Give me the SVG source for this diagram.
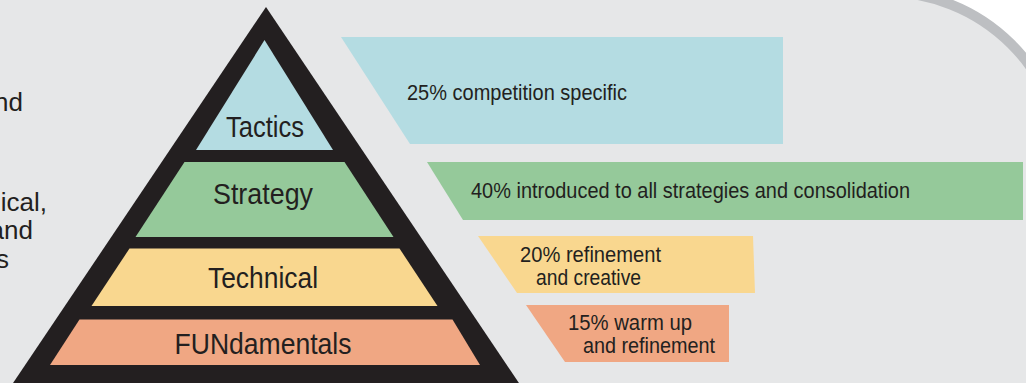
<svg xmlns="http://www.w3.org/2000/svg" width="1026" height="383" viewBox="0 0 1026 383">
<style>
.lbl{font-family:"Liberation Sans Narrow","Liberation Sans",Arial,sans-serif;font-size:30px;fill:#231f20;text-anchor:middle}
.pct{font-family:"Liberation Sans Narrow","Liberation Sans",Arial,sans-serif;font-size:22px;fill:#231f20}
.side{font-family:"Liberation Sans","Open Sans",Arial,sans-serif;font-size:26px;fill:#231f20;text-anchor:end}
.blue{fill:#b4dce2}.green{fill:#95c99a}.yellow{fill:#f9d78f}.orange{fill:#f0a783}
</style>
<rect x="0" y="0" width="1026" height="383" fill="#ffffff"/>
<rect x="-400" y="-8" width="1463.4" height="800" rx="178" ry="178" fill="#e6e7e8" stroke="#bdbfc2" stroke-width="10"/>
<g id="side-text">
<text class="side" x="23" y="111">nd</text>
<text class="side" x="47" y="211">ical,</text>
<text class="side" x="33" y="239">and</text>
<text class="side" x="9" y="268">s</text>
</g>
<g id="pyramid">
<polygon points="266,7 7,392 525,392" fill="#231f20"/>
<g id="tactics">
<polygon class="blue" points="264.5,40 333,150 196,150"/>
<text class="lbl" x="265" y="137" textLength="78" lengthAdjust="spacingAndGlyphs">Tactics</text>
</g>
<g id="strategy">
<polygon class="green" points="184.5,162 344.5,162 393.5,237 135.5,237"/>
<text class="lbl" x="263" y="204" textLength="100" lengthAdjust="spacingAndGlyphs">Strategy</text>
</g>
<g id="technical">
<polygon class="yellow" points="129.5,248.5 399.5,248.5 437.5,306 91.5,306"/>
<text class="lbl" x="263" y="288" textLength="110" lengthAdjust="spacingAndGlyphs">Technical</text>
</g>
<g id="fundamentals">
<polygon class="orange" points="79.5,319.5 452.5,319.5 480,365 50,365"/>
<text class="lbl" x="263" y="354" textLength="177" lengthAdjust="spacingAndGlyphs">FUNdamentals</text>
</g>
</g>
<g id="panels">
<g id="panel-25">
<polygon class="blue" points="341,37 783,37 783,144 410,144"/>
<text class="pct" x="407" y="100" textLength="220" lengthAdjust="spacingAndGlyphs">25% competition specific</text>
</g>
<g id="panel-40">
<polygon class="green" points="427,162 1023,162 1023,220 463,220"/>
<text class="pct" x="471" y="198" textLength="439" lengthAdjust="spacingAndGlyphs">40% introduced to all strategies and consolidation</text>
</g>
<g id="panel-20">
<polygon class="yellow" points="478,236 753,236 755,293 517,293"/>
<text class="pct" x="520" y="262" textLength="141" lengthAdjust="spacingAndGlyphs">20% refinement</text>
<text class="pct" x="536" y="285" textLength="105" lengthAdjust="spacingAndGlyphs">and creative</text>
</g>
<g id="panel-15">
<polygon class="orange" points="526,305 729,305 729,362 565,362"/>
<text class="pct" x="568" y="330" textLength="124" lengthAdjust="spacingAndGlyphs">15% warm up</text>
<text class="pct" x="583" y="353" textLength="132" lengthAdjust="spacingAndGlyphs">and refinement</text>
</g>
</g>
<g id="connectors"/>
</svg>
